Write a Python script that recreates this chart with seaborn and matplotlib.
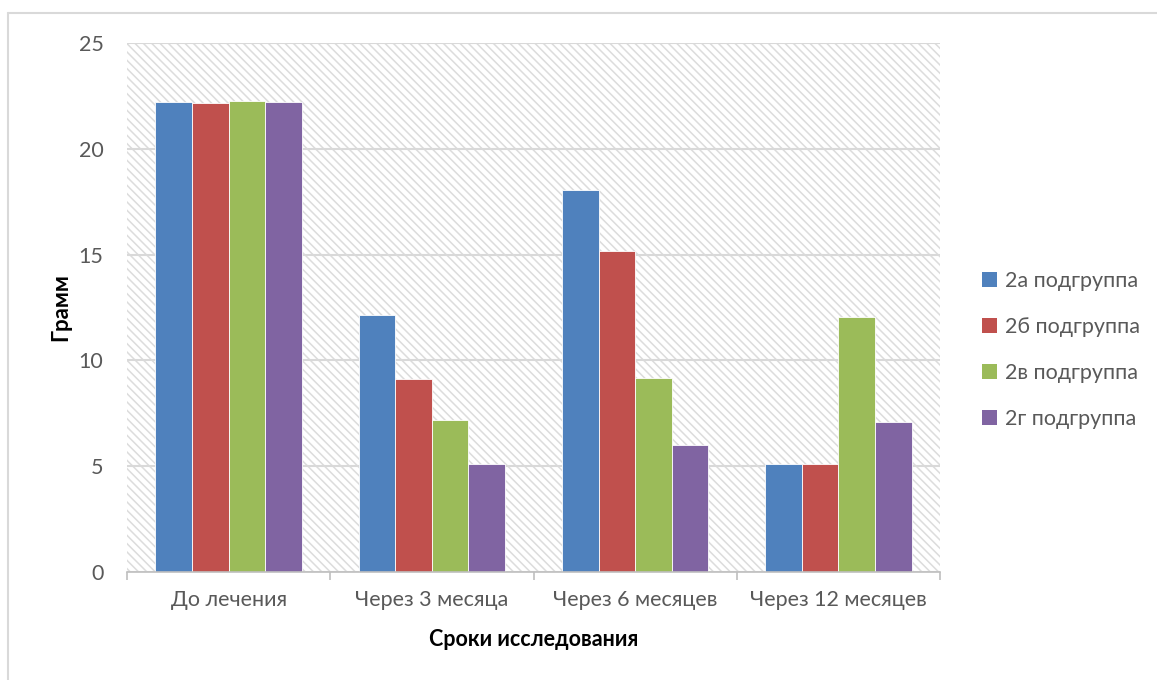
import matplotlib
matplotlib.use("Agg")
import matplotlib.pyplot as plt
from matplotlib.patches import Rectangle, Patch
from matplotlib.lines import Line2D
import seaborn as sns
import pandas as pd

periods = ["До лечения", "Через 3 месяца", "Через 6 месяцев", "Через 12 месяцев"]
groups = ["2а подгруппа", "2б подгруппа", "2в подгруппа", "2г подгруппа"]
values_2a = [22.2, 12.15, 18.05, 5.1]
values_2b = [22.15, 9.1, 15.15, 5.1]
values_2v = [22.25, 7.2, 9.15, 12.05]
values_2g = [22.2, 5.1, 6.0, 7.1]
colors = ["#4F81BD", "#C0504D", "#9BBB59", "#8064A2"]
y_ticks = [0, 5, 10, 15, 20, 25]

series = [values_2a, values_2b, values_2v, values_2g]
rows = []
for g, vals in zip(groups, series):
    for p, v in zip(periods, vals):
        rows.append({"period": p, "group": g, "value": v})
df = pd.DataFrame(rows)

sns.set_theme(style="white")
plt.rcParams["font.family"] = ["Lato", "DejaVu Sans"]
plt.rcParams["hatch.linewidth"] = 1.1

fig = plt.figure(figsize=(11.57, 6.8), dpi=100)
fig.patch.set_facecolor("white")
# chart frame (top and left edges)
W, H = 1157, 680
fig.add_artist(Line2D([8 / W, 1.0], [1 - 13 / H, 1 - 13 / H], transform=fig.transFigure,
                      color="#d9d9d9", linewidth=1.5))
fig.add_artist(Line2D([8 / W, 8 / W], [0.0, 1 - 13 / H], transform=fig.transFigure,
                      color="#d9d9d9", linewidth=1.5))

ax = fig.add_axes([127 / W, 1 - 572 / H, 813 / W, 529 / H])

# diagonal hatched plot background
ax.add_patch(Rectangle((0, 0), 1, 1, transform=ax.transAxes, facecolor="white",
                       edgecolor="#dcdcdc", hatch="\\\\\\\\", linewidth=0, zorder=0.1))

sns.barplot(data=df, x="period", y="value", hue="group", order=periods,
            hue_order=groups, palette=colors, saturation=1, width=0.72,
            edgecolor="white", linewidth=0.6, ax=ax, legend=False, zorder=3)

ax.set_xlim(-0.5, 3.5)
ax.set_ylim(0, 25)
ax.set_yticks(y_ticks)
ax.yaxis.grid(True, color="#d9d9d9", linewidth=1.5, zorder=1)
ax.xaxis.grid(False)
ax.set_axisbelow(True)
for s in ["top", "right", "left"]:
    ax.spines[s].set_visible(False)
ax.spines["bottom"].set_color("#bfbfbf")
ax.spines["bottom"].set_linewidth(1.2)
ax.spines["bottom"].set_zorder(4)

ax.set_xticks([-0.5, 0.5, 1.5, 2.5, 3.5], minor=True)
ax.tick_params(axis="x", which="minor", length=6, width=1.2, color="#bfbfbf", bottom=True)
ax.tick_params(axis="x", which="major", length=0, pad=13, labelsize=15.5, labelcolor="#595959")
ax.tick_params(axis="y", length=0, pad=17, labelsize=15.5, labelcolor="#595959")

ax.set_xlabel("Сроки исследования", fontsize=15.5, fontweight="bold", color="black", labelpad=14)
ax.set_ylabel("Грамм", fontsize=16, fontweight="bold", color="black")
ax.yaxis.set_label_coords(-0.068, 0.5)

handles = [Patch(facecolor=c, edgecolor="none") for c in colors]
leg = fig.legend(handles, groups, loc="center left", bbox_to_anchor=(0.832, 0.485),
                 frameon=False, fontsize=15.5, handlelength=0.7, handleheight=0.7,
                 handletextpad=0.35, labelspacing=1.2, labelcolor="#595959")

fig.savefig("out.png", dpi=100, facecolor="white")
